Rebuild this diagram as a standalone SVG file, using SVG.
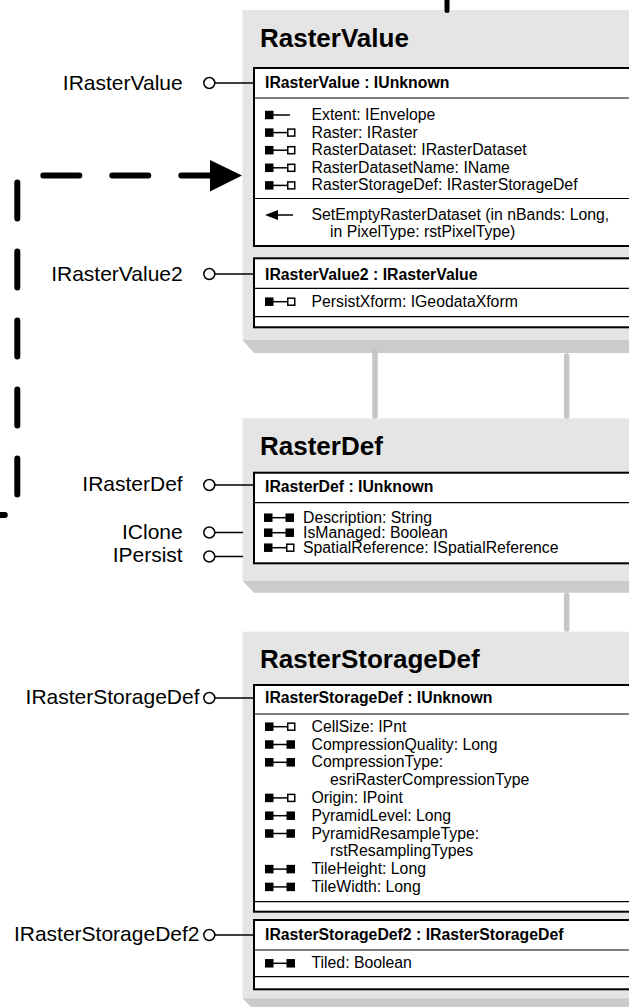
<svg xmlns="http://www.w3.org/2000/svg" xmlns:xlink="http://www.w3.org/1999/xlink" width="629" height="1007" viewBox="0 0 629 1007">
<style>
text{font-family:"Liberation Sans",Arial,Helvetica,sans-serif;fill:#000}
.title{font-size:26px;font-weight:bold}
.hdr{font-size:15.8px;font-weight:bold}
.item{font-size:15.8px}
.lbl{font-size:21px;text-anchor:end}
.gray{fill:#e5e5e5}
.shadow{fill:#cbcbcb}
.ibox{fill:#fff;stroke:#000;stroke-width:2}
.div{stroke:#000;stroke-width:1.2}
.lol{stroke:#000;stroke-width:1.5;fill:none}
.lolc{stroke:#000;stroke-width:1.5;fill:#fff}
.inh{stroke:#c6c6c6;stroke-width:5.5;stroke-linecap:round;fill:none}
.dash{stroke:#000;stroke-width:6;stroke-linecap:round;fill:none}
</style>
<defs>
<g id="ro"><rect x="0" y="-4.25" width="8.5" height="8.5"/><line x1="8" y1="0" x2="25" y2="0" stroke="#000" stroke-width="1.5"/></g>
<g id="rwref"><rect x="0" y="-4.25" width="8.5" height="8.5"/><line x1="8" y1="0" x2="22.5" y2="0" stroke="#000" stroke-width="1.5"/><rect x="22.75" y="-3.5" width="7" height="7" fill="#fff" stroke="#000" stroke-width="1.5"/></g>
<g id="rw"><rect x="0" y="-4.25" width="8.5" height="8.5"/><line x1="8" y1="0" x2="22" y2="0" stroke="#000" stroke-width="1.5"/><rect x="21.5" y="-4.25" width="8.5" height="8.5"/></g>
<g id="meth"><polygon points="0,0 13,-5 13,5"/><line x1="12" y1="0" x2="28" y2="0" stroke="#000" stroke-width="1.5"/></g>
</defs>

<g id="RasterValue">
<rect class="gray" x="242.5" y="10" width="420" height="330"/>
<polygon class="shadow" points="242.5,340 254,353 662,353 662,340"/>
<text class="title" x="260" y="47">RasterValue</text>
<rect class="ibox" x="254" y="68" width="420" height="178"/>
<line class="div" x1="254" y1="98" x2="640" y2="98"/>
<line class="div" x1="254" y1="198.5" x2="640" y2="198.5"/>
<text class="hdr" x="265" y="88.3">IRasterValue : IUnknown</text>
<use xlink:href="#ro" x="265" y="115"/>
<text class="item" x="311.5" y="120">Extent: IEnvelope</text>
<use xlink:href="#rwref" x="265" y="132.6"/>
<text class="item" x="311.5" y="137.6">Raster: IRaster</text>
<use xlink:href="#rwref" x="265" y="150.2"/>
<text class="item" x="311.5" y="155.2">RasterDataset: IRasterDataset</text>
<use xlink:href="#rwref" x="265" y="167.8"/>
<text class="item" x="311.5" y="172.8">RasterDatasetName: IName</text>
<use xlink:href="#rwref" x="265" y="185.4"/>
<text class="item" x="311.5" y="190.4">RasterStorageDef: IRasterStorageDef</text>
<use xlink:href="#meth" x="265" y="215"/>
<text class="item" x="311.5" y="220">SetEmptyRasterDataset (in nBands: Long,</text>
<text class="item" x="330" y="237">in PixelType: rstPixelType)</text>
<rect class="ibox" x="254" y="258.3" width="420" height="69"/>
<line class="div" x1="254" y1="288.3" x2="640" y2="288.3"/>
<line class="div" x1="254" y1="316.7" x2="640" y2="316.7"/>
<text class="hdr" x="265" y="279.5">IRasterValue2 : IRasterValue</text>
<use xlink:href="#rwref" x="265" y="301.7"/>
<text class="item" x="311.5" y="306.7">PersistXform: IGeodataXform</text>
<line class="lol" x1="214.8" y1="83" x2="254" y2="83"/>
<circle class="lolc" cx="209.3" cy="83" r="5.5"/>
<text class="lbl" x="182.7" y="89.5">IRasterValue</text>
<line class="lol" x1="214.8" y1="274" x2="254" y2="274"/>
<circle class="lolc" cx="209.3" cy="274" r="5.5"/>
<text class="lbl" x="182.7" y="281">IRasterValue2</text>
</g>

<g id="RasterDef">
<rect class="gray" x="242.5" y="418.3" width="420" height="162.4"/>
<polygon class="shadow" points="242.5,580.7 254,592.7 662,592.7 662,580.7"/>
<text class="title" x="260" y="455">RasterDef</text>
<rect class="ibox" x="254" y="472.7" width="420" height="90.6"/>
<line class="div" x1="254" y1="502.7" x2="640" y2="502.7"/>
<text class="hdr" x="265" y="491.7">IRasterDef : IUnknown</text>
<use xlink:href="#rw" x="264" y="517.7"/>
<text class="item" x="303" y="522.7">Description: String</text>
<use xlink:href="#rw" x="264" y="532.7"/>
<text class="item" x="303" y="537.7">IsManaged: Boolean</text>
<use xlink:href="#rwref" x="264" y="547.7"/>
<text class="item" x="303" y="552.7">SpatialReference: ISpatialReference</text>
<line class="lol" x1="214.8" y1="485" x2="254" y2="485"/>
<circle class="lolc" cx="209.3" cy="485" r="5.5"/>
<text class="lbl" x="182.7" y="491">IRasterDef</text>
<line class="lol" x1="214.8" y1="532.5" x2="243" y2="532.5"/>
<circle class="lolc" cx="209.3" cy="532.5" r="5.5"/>
<text class="lbl" x="182.7" y="538.5">IClone</text>
<line class="lol" x1="214.8" y1="556.5" x2="243" y2="556.5"/>
<circle class="lolc" cx="209.3" cy="556.5" r="5.5"/>
<text class="lbl" x="182.7" y="562">IPersist</text>
</g>

<g id="RasterStorageDef">
<rect class="gray" x="242.5" y="631.7" width="420" height="366.6"/>
<polygon class="shadow" points="242.5,998.3 254,1010.3 662,1010.3 662,998.3"/>
<text class="title" x="260" y="668.3">RasterStorageDef</text>
<rect class="ibox" x="254" y="685" width="420" height="226.7"/>
<line class="div" x1="254" y1="714" x2="640" y2="714"/>
<line class="div" x1="254" y1="901.7" x2="640" y2="901.7"/>
<text class="hdr" x="265" y="703.3">IRasterStorageDef : IUnknown</text>
<use xlink:href="#rwref" x="265" y="726.7"/>
<text class="item" x="311.5" y="731.7">CellSize: IPnt</text>
<use xlink:href="#rw" x="265" y="744.5"/>
<text class="item" x="311.5" y="749.5">CompressionQuality: Long</text>
<use xlink:href="#rw" x="265" y="762.3"/>
<text class="item" x="311.5" y="767.3">CompressionType:</text>
<text class="item" x="330" y="785.1">esriRasterCompressionType</text>
<use xlink:href="#rwref" x="265" y="797.9"/>
<text class="item" x="311.5" y="802.9">Origin: IPoint</text>
<use xlink:href="#rw" x="265" y="815.7"/>
<text class="item" x="311.5" y="820.7">PyramidLevel: Long</text>
<use xlink:href="#rw" x="265" y="833.5"/>
<text class="item" x="311.5" y="838.5">PyramidResampleType:</text>
<text class="item" x="330" y="856.3">rstResamplingTypes</text>
<use xlink:href="#rw" x="265" y="869.1"/>
<text class="item" x="311.5" y="874.1">TileHeight: Long</text>
<use xlink:href="#rw" x="265" y="886.9"/>
<text class="item" x="311.5" y="891.9">TileWidth: Long</text>
<rect class="ibox" x="254" y="920" width="420" height="69.3"/>
<line class="div" x1="254" y1="950" x2="640" y2="950"/>
<line class="div" x1="254" y1="976.7" x2="640" y2="976.7"/>
<text class="hdr" x="265" y="940">IRasterStorageDef2 : IRasterStorageDef</text>
<use xlink:href="#rw" x="265" y="963.3"/>
<text class="item" x="311.5" y="968.3">Tiled: Boolean</text>
<line class="lol" x1="214.8" y1="698" x2="254" y2="698"/>
<circle class="lolc" cx="209.3" cy="698" r="5.5"/>
<text class="lbl" x="199.5" y="703.5">IRasterStorageDef</text>
<line class="lol" x1="214.8" y1="935" x2="254" y2="935"/>
<circle class="lolc" cx="209.3" cy="935" r="5.5"/>
<text class="lbl" x="199.5" y="941">IRasterStorageDef2</text>
</g>

<g id="connectors">
<line class="inh" x1="375" y1="351" x2="375" y2="416"/>
<line class="inh" x1="566.7" y1="356" x2="566.7" y2="416"/>
<line class="inh" x1="566.7" y1="595.5" x2="566.7" y2="629"/>
<line x1="447" y1="-5" x2="447" y2="10.5" stroke="#000" stroke-width="5" stroke-linecap="round"/>
<path class="dash" d="M215,175.5 H17.3 V515 H-40" stroke-dasharray="36 33" stroke-dashoffset="2.3"/>
<polygon points="210,160 242,175.5 210,191.5" fill="#000"/>
</g>
</svg>
